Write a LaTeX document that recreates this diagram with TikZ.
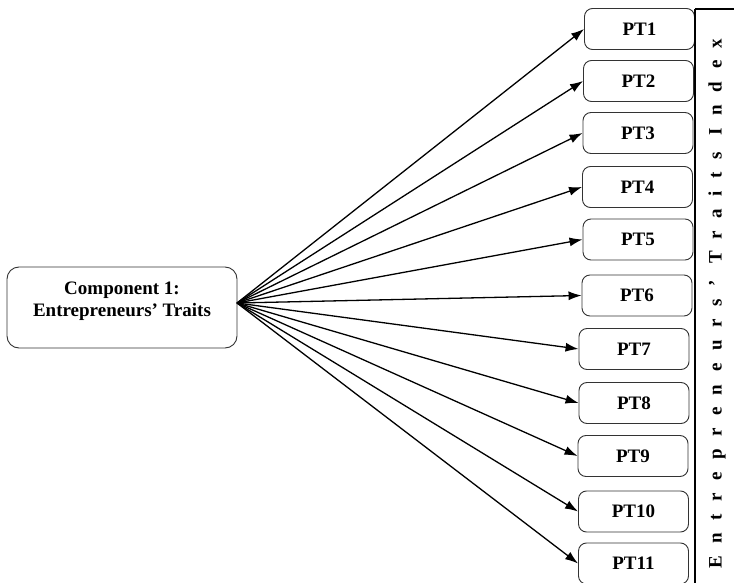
\documentclass[tikz,border=0pt]{standalone}
\usepackage{fontspec}
\setmainfont{Liberation Serif}
\usetikzlibrary{arrows.meta}
\begin{document}
\begin{tikzpicture}[x=1pt,y=-1pt,
  ptbox/.style={draw=black!80, line width=0.9pt, rounded corners=8pt, minimum width=110pt, minimum height=41pt, inner sep=0pt, font=\fontsize{19}{22}\selectfont\bfseries},
  conn/.style={line width=1.3pt, -{Latex[length=13pt,width=9pt]}}]
\useasboundingbox (0,0) rectangle (734,583);
\node[draw=black!80, line width=0.9pt, rounded corners=12pt, minimum width=230pt, minimum height=81pt] (comp) at (122,307.5) {};
\node[align=center, font=\fontsize{19}{22.5}\selectfont\bfseries] (comptext) at (122,301) {Component 1:\\Entrepreneurs’ Traits};
\coordinate (src) at (237,303);
\node[ptbox] (p1) at (639.5,29) {PT1};
\node[ptbox] (p2) at (638.5,81) {PT2};
\node[ptbox] (p3) at (638,133) {PT3};
\node[ptbox] (p4) at (637.5,187) {PT4};
\node[ptbox] (p5) at (638,239.5) {PT5};
\node[ptbox] (p6) at (637,295.5) {PT6};
\node[ptbox] (p7) at (634,349) {PT7};
\node[ptbox] (p8) at (634,403) {PT8};
\node[ptbox] (p9) at (633,456) {PT9};
\node[ptbox] (p10) at (633.5,511.5) {PT10};
\node[ptbox] (p11) at (633.5,563.5) {PT11};
\foreach \i in {1,...,11} \draw[conn] (src) -- (p\i.west);
\coordinate (vtop) at (695,9);
\coordinate (vbot) at (695,590);
\coordinate (htop) at (740,9);
\draw[line width=1.8pt] (vbot) -- (vtop);
\draw[line width=1.4pt] (vtop) -- (htop);
\node[rotate=90, font=\fontsize{19}{22}\selectfont\bfseries\addfontfeature{LetterSpace=66}] (idx) at (717,303.5) {Entrepreneurs’ Traits Index};
\end{tikzpicture}
\end{document}
